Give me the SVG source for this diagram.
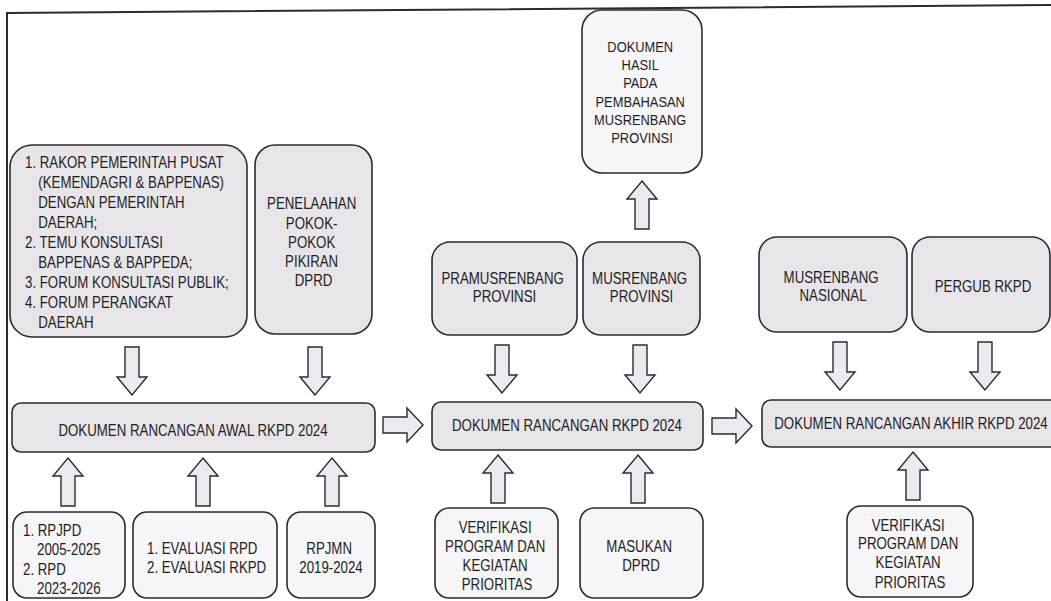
<svg xmlns="http://www.w3.org/2000/svg" width="1051" height="601" viewBox="0 0 1051 601">
<style>
.g{fill:#e7e5ea;stroke:#2b2b2b;stroke-width:1.6}
.w{fill:#f6f5f7;stroke:#2b2b2b;stroke-width:1.6}
.a{fill:#eceaf0;stroke:#2b2b2b;stroke-width:1.4;stroke-linejoin:miter}
.t{font-family:"Liberation Sans",Arial,sans-serif;font-size:16px;fill:#1e1e1e}
.s{font-family:"Liberation Sans",Arial,sans-serif;font-size:14px;fill:#1e1e1e}
.c{text-anchor:middle}
</style>
<defs>
<path id="up" d="M0,0 L15,18 L7,18 L7,48 L-7,48 L-7,18 L-15,18 Z"/>
<path id="down" d="M0,0 L-15,-18 L-7,-18 L-7,-48 L7,-48 L7,-18 L15,-18 Z"/>
<path id="right" d="M0,0 L-16,-17 L-16,-8 L-40,-8 L-40,8 L-16,8 L-16,17 Z"/>
</defs>
<rect width="1051" height="601" fill="#ffffff"/>
<g id="frame" fill="none" stroke="#2b2b2b" stroke-width="2">
<path d="M7,601 L7,13 L1051,5"/>
</g>

<g id="n-rakor">
<rect class="g" x="10" y="145" width="237" height="192" rx="22"/>
<text class="t" transform="translate(25,0) scale(0.83 1)">
<tspan x="0" y="168">1. RAKOR PEMERINTAH PUSAT</tspan>
<tspan x="16" y="188">(KEMENDAGRI &amp; BAPPENAS)</tspan>
<tspan x="16" y="208">DENGAN PEMERINTAH</tspan>
<tspan x="16" y="228">DAERAH;</tspan>
<tspan x="0" y="248">2. TEMU KONSULTASI</tspan>
<tspan x="16" y="268">BAPPENAS &amp; BAPPEDA;</tspan>
<tspan x="0" y="288">3. FORUM KONSULTASI PUBLIK;</tspan>
<tspan x="0" y="308">4. FORUM PERANGKAT</tspan>
<tspan x="16" y="328">DAERAH</tspan>
</text>
</g>

<g id="n-dprd">
<rect class="g" x="255" y="145" width="117" height="189" rx="20"/>
<text class="t c" transform="translate(313.5,0) scale(0.83 1)">
<tspan x="0" y="209">PENELAAHAN</tspan>
<tspan x="0" y="229">POKOK-</tspan>
<tspan x="0" y="248">POKOK</tspan>
<tspan x="0" y="267">PIKIRAN</tspan>
<tspan x="0" y="286">DPRD</tspan>
</text>
</g>

<g id="n-awal">
<rect class="g" x="12" y="403" width="363" height="49" rx="9"/>
<text class="t c" transform="translate(193,0) scale(0.83 1)"><tspan x="0" y="436">DOKUMEN RANCANGAN AWAL RKPD 2024</tspan></text>
</g>

<g id="n-rpjpd">
<rect class="w" x="13" y="512" width="112" height="86" rx="14"/>
<text class="t" transform="translate(23,0) scale(0.83 1)">
<tspan x="0" y="536">1. RPJPD</tspan>
<tspan x="17" y="555">2005-2025</tspan>
<tspan x="0" y="575">2. RPD</tspan>
<tspan x="17" y="594">2023-2026</tspan>
</text>
</g>

<g id="n-evaluasi">
<rect class="w" x="133" y="512" width="144" height="86" rx="14"/>
<text class="t" transform="translate(147,0) scale(0.83 1)">
<tspan x="0" y="554">1. EVALUASI  RPD</tspan>
<tspan x="0" y="573">2. EVALUASI  RKPD</tspan>
</text>
</g>

<g id="n-rpjmn">
<rect class="w" x="287" y="512" width="88" height="86" rx="14"/>
<text class="t c" transform="translate(331,0) scale(0.83 1)">
<tspan x="0" y="554">RPJMN</tspan>
<tspan x="0" y="573">2019-2024</tspan>
</text>
</g>

<g id="n-hasil">
<rect class="w" x="582" y="10" width="120" height="163" rx="20"/>
<text class="s c" transform="translate(642,0) scale(0.92 1)">
<tspan x="0" y="52">DOKUMEN</tspan>
<tspan x="0" y="70">HASIL</tspan>
<tspan x="0" y="88">PADA</tspan>
<tspan x="0" y="107">PEMBAHASAN</tspan>
<tspan x="0" y="125">MUSRENBANG</tspan>
<tspan x="0" y="143">PROVINSI</tspan>
</text>
</g>

<g id="n-pramus">
<rect class="g" x="432" y="242" width="145" height="93" rx="18"/>
<text class="t c" transform="translate(504.5,0) scale(0.83 1)">
<tspan x="0" y="284">PRAMUSRENBANG</tspan>
<tspan x="0" y="302">PROVINSI</tspan>
</text>
</g>

<g id="n-musprov">
<rect class="g" x="583" y="242" width="117" height="93" rx="18"/>
<text class="t c" transform="translate(641.5,0) scale(0.83 1)">
<tspan x="0" y="284">MUSRENBANG</tspan>
<tspan x="0" y="302">PROVINSI</tspan>
</text>
</g>

<g id="n-rkpd">
<rect class="g" x="432" y="402" width="271" height="48" rx="9"/>
<text class="t c" transform="translate(567,0) scale(0.83 1)"><tspan x="0" y="431">DOKUMEN RANCANGAN RKPD 2024</tspan></text>
</g>

<g id="n-verif1">
<rect class="w" x="435" y="508" width="123" height="90" rx="14"/>
<text class="t c" transform="translate(497,0) scale(0.83 1)">
<tspan x="0" y="533">VERIFIKASI</tspan>
<tspan x="0" y="552">PROGRAM DAN</tspan>
<tspan x="0" y="571">KEGIATAN</tspan>
<tspan x="0" y="590">PRIORITAS</tspan>
</text>
</g>

<g id="n-masukan">
<rect class="w" x="580" y="508" width="123" height="90" rx="14"/>
<text class="t c" transform="translate(641,0) scale(0.83 1)">
<tspan x="0" y="552">MASUKAN</tspan>
<tspan x="0" y="571">DPRD</tspan>
</text>
</g>

<g id="n-nasional">
<rect class="g" x="759" y="237" width="148" height="95" rx="18"/>
<text class="t c" transform="translate(833,0) scale(0.83 1)">
<tspan x="0" y="283">MUSRENBANG</tspan>
<tspan x="0" y="301">NASIONAL</tspan>
</text>
</g>

<g id="n-pergub">
<rect class="g" x="912" y="237" width="138" height="95" rx="18"/>
<text class="t c" transform="translate(983,0) scale(0.83 1)"><tspan x="0" y="292">PERGUB RKPD</tspan></text>
</g>

<g id="n-akhir">
<rect class="g" x="762" y="400" width="300" height="47" rx="9"/>
<text class="t c" transform="translate(911,0) scale(0.83 1)"><tspan x="0" y="429">DOKUMEN RANCANGAN AKHIR RKPD 2024</tspan></text>
</g>

<g id="n-verif2">
<rect class="w" x="847" y="506" width="126" height="91" rx="14"/>
<text class="t c" transform="translate(910,0) scale(0.83 1)">
<tspan x="0" y="531">VERIFIKASI</tspan>
<tspan x="0" y="549">PROGRAM DAN</tspan>
<tspan x="0" y="568">KEGIATAN</tspan>
<tspan x="0" y="588">PRIORITAS</tspan>
</text>
</g>

<g id="connectors" class="a">
<use href="#down" x="132" y="395"/>
<use href="#down" x="315" y="395"/>
<use href="#up" x="68" y="458"/>
<use href="#up" x="203" y="458"/>
<use href="#up" x="332" y="458"/>
<use href="#right" x="423" y="425"/>
<use href="#up" x="642" y="181"/>
<use href="#down" x="502" y="393"/>
<use href="#down" x="640" y="393"/>
<use href="#up" x="498" y="455"/>
<use href="#up" x="638" y="455"/>
<use href="#right" x="752" y="426"/>
<use href="#down" x="840" y="390"/>
<use href="#down" x="985" y="390"/>
<use href="#up" x="913" y="452"/>
</g>
</svg>
